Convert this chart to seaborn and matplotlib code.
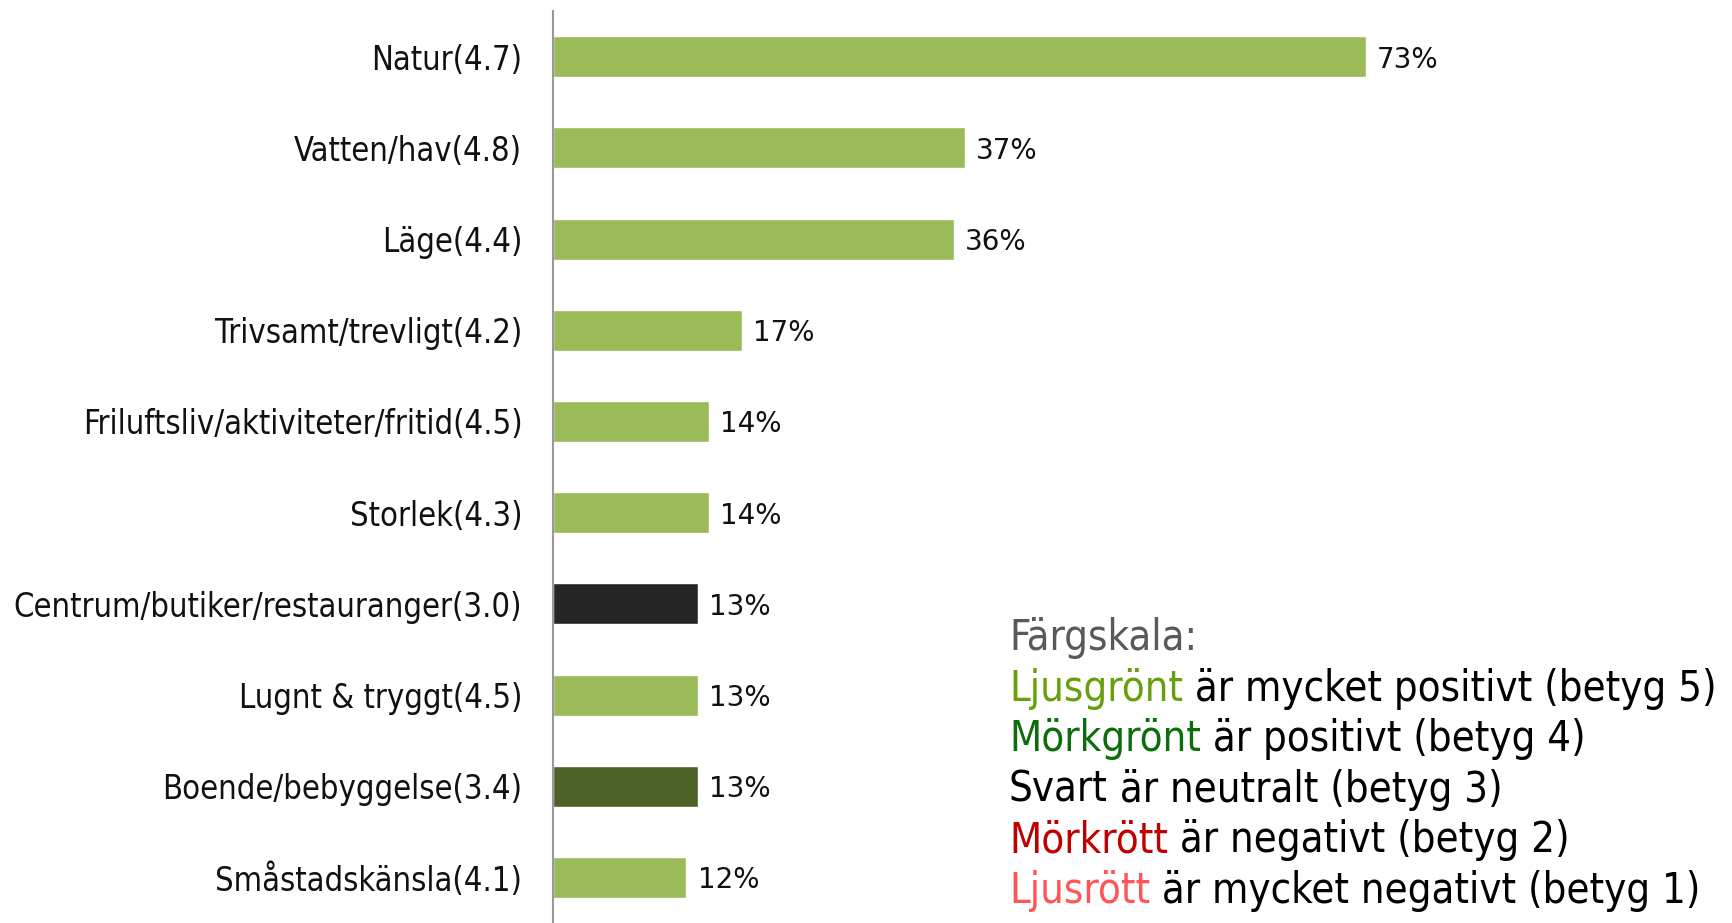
import matplotlib
matplotlib.use("Agg")
import matplotlib.pyplot as plt
import seaborn as sns
import pandas as pd

# Survey answers: what residents value most, with average rating in brackets
categories = [
    "Natur(4.7)",
    "Vatten/hav(4.8)",
    "Läge(4.4)",
    "Trivsamt/trevligt(4.2)",
    "Friluftsliv/aktiviteter/fritid(4.5)",
    "Storlek(4.3)",
    "Centrum/butiker/restauranger(3.0)",
    "Lugnt & tryggt(4.5)",
    "Boende/bebyggelse(3.4)",
    "Småstadskänsla(4.1)",
]
shares = [73, 37, 36, 17, 14, 14, 13, 13, 13, 12]
bar_colors = [
    "#9BBB59", "#9BBB59", "#9BBB59", "#9BBB59", "#9BBB59",
    "#9BBB59", "#262626", "#9BBB59", "#4F6228", "#9BBB59",
]

legend_title = "Färgskala:"
legend_words = ["Ljusgrönt", "Mörkgrönt", "Svart", "Mörkrött", "Ljusrött"]
legend_rest = [
    "är mycket positivt (betyg 5)",
    "är positivt (betyg 4)",
    "är neutralt (betyg 3)",
    "är negativt (betyg 2)",
    "är mycket negativt (betyg 1)",
]
legend_colors = ["#66A00A", "#0B6E0B", "#000000", "#C00000", "#FF5555"]

df = pd.DataFrame({"kategori": categories, "andel": shares})

sns.set_theme(style="white")
plt.rcParams["font.family"] = ["DejaVu Sans"]

fig = plt.figure(figsize=(17.33, 9.23), dpi=100)
ax = fig.add_axes([0.319, 0.0, 0.681, 0.988])

sns.barplot(
    data=df, y="kategori", x="andel", hue="kategori",
    palette=dict(zip(categories, bar_colors)), order=categories,
    hue_order=categories, orient="h", width=0.45, legend=False,
    saturation=1, ax=ax,
)

for cont in ax.containers:
    for t in ax.bar_label(cont, fmt="{:.0f}%", padding=8, fontsize=20,
                          color="#111111"):
        t.set_verticalalignment("center_baseline")

ax.set_xlim(0, 106)
ax.set_ylim(9.5, -0.5)
ax.set_xlabel("")
ax.set_ylabel("")
ax.set_xticks([])
ax.tick_params(axis="y", length=0, pad=22, labelsize=23.5, labelcolor="#111111")
for lab in ax.get_yticklabels():
    lab.set_fontstretch("condensed")
for side in ["top", "right", "bottom"]:
    ax.spines[side].set_visible(False)
ax.spines["left"].set_color("#999999")
ax.spines["left"].set_linewidth(1.5)

# Colour key drawn as text lines in the lower right
x0 = 1009 / 1733
y_title = 1 - 638 / 923
step = 50.6 / 923
fs = 30
fig.text(x0, y_title, legend_title, color="#595959", fontsize=fs,
         va="center", ha="left", fontstretch="condensed")
for i, (w, rest, col) in enumerate(zip(legend_words, legend_rest, legend_colors)):
    y = y_title - (i + 1) * step
    t = fig.text(x0, y, w, color=col, fontsize=fs, va="center", ha="left",
                 fontstretch="condensed")
    ax.annotate(" " + rest, xy=(1, 0.5), xycoords=t, va="center", ha="left",
                fontsize=fs, color="#000000", fontstretch="condensed",
                annotation_clip=False)

fig.savefig("out.png", dpi=100)
